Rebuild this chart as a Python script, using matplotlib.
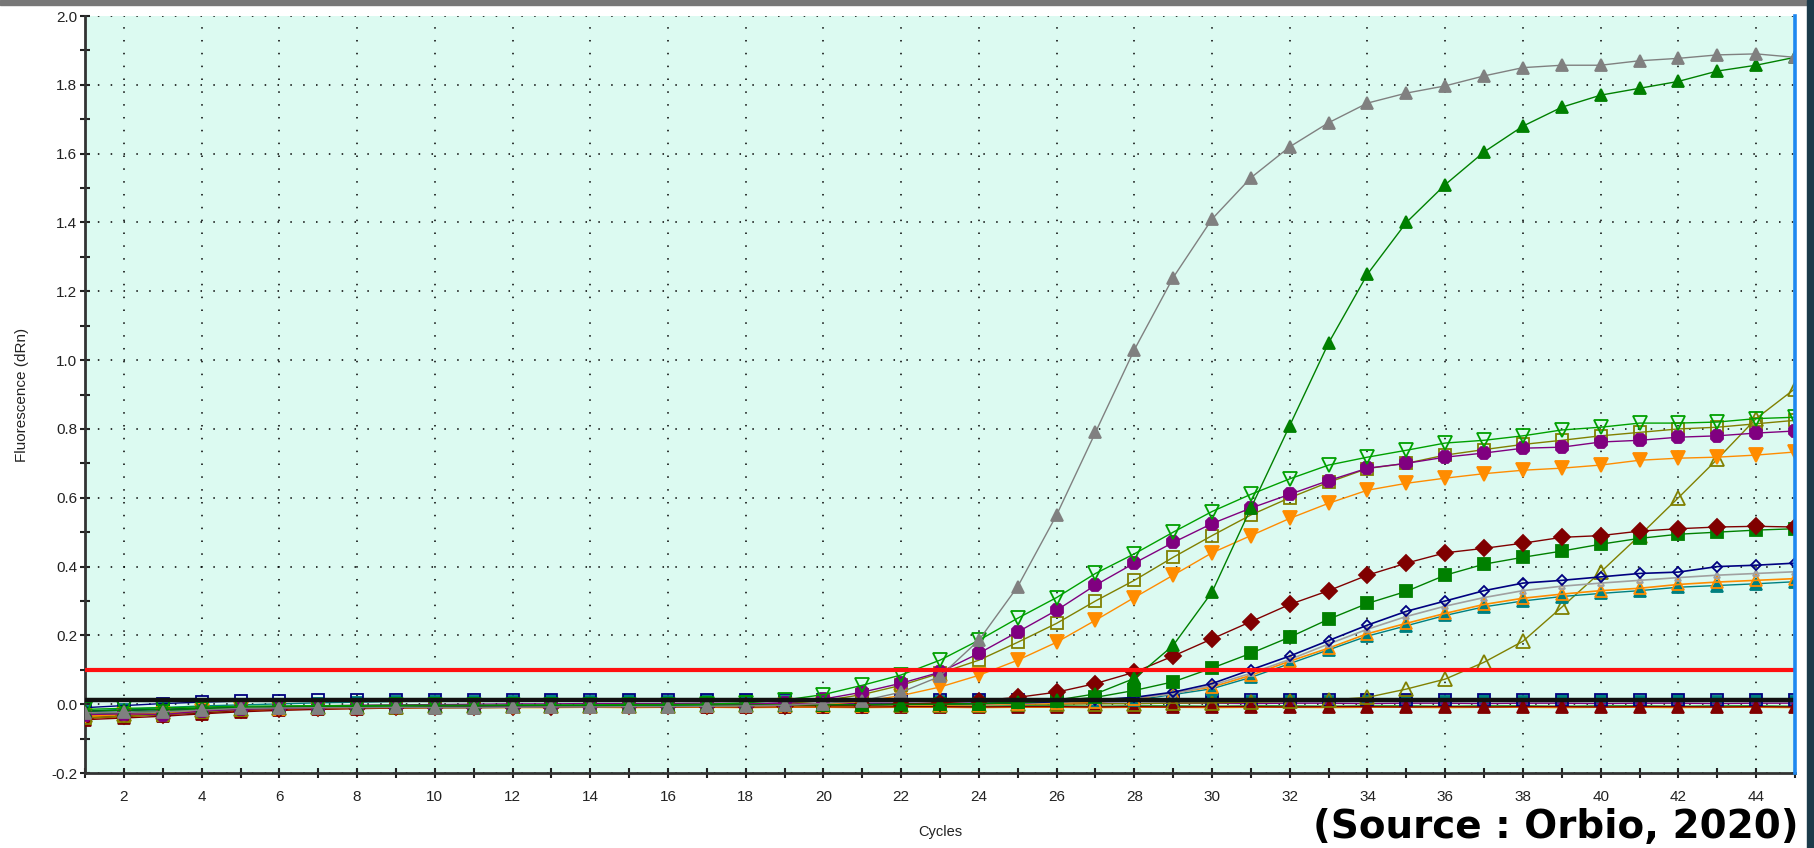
import numpy as np
import matplotlib.pyplot as plt
from matplotlib.ticker import MultipleLocator, FormatStrFormatter
from matplotlib.patches import Rectangle

cycles = list(range(1, 46))

# amplifying wells (dRn per cycle)
gray_tri = [-0.025, -0.024, -0.022, -0.017, -0.012, -0.011, -0.010, -0.010, -0.009, -0.010,
            -0.010, -0.009, -0.008, -0.008, -0.007, -0.007, -0.006, -0.005, -0.003, 0.002,
            0.010, 0.035, 0.081, 0.186, 0.342, 0.550, 0.790, 1.030, 1.240, 1.410,
            1.530, 1.620, 1.690, 1.747, 1.776, 1.797, 1.826, 1.850, 1.857, 1.857,
            1.870, 1.877, 1.887, 1.890, 1.880]
green_tri = [-0.020, -0.018, -0.015, -0.012, -0.010, -0.008, -0.007, -0.006, -0.006, -0.005,
             -0.005, -0.004, -0.004, -0.004, -0.003, -0.003, -0.003, -0.002, -0.002, -0.002,
             -0.001, 0.000, 0.000, 0.002, 0.005, 0.012, 0.030, 0.075, 0.171, 0.326,
             0.570, 0.810, 1.050, 1.250, 1.400, 1.510, 1.605, 1.680, 1.735, 1.770,
             1.790, 1.810, 1.840, 1.857, 1.880]
green_tri_down = [-0.015, -0.012, -0.010, -0.008, -0.006, -0.005, -0.004, -0.004, -0.003, -0.003,
                  -0.003, -0.002, -0.002, -0.002, -0.001, -0.001, 0.000, 0.004, 0.012, 0.028,
                  0.055, 0.085, 0.128, 0.186, 0.250, 0.310, 0.380, 0.437, 0.500, 0.560,
                  0.610, 0.655, 0.695, 0.718, 0.738, 0.759, 0.767, 0.780, 0.797, 0.805,
                  0.817, 0.817, 0.820, 0.830, 0.834]
purple_oct = [-0.030, -0.028, -0.030, -0.020, -0.015, -0.012, -0.010, -0.008, -0.007, -0.008,
              -0.007, -0.006, -0.006, -0.005, -0.005, -0.004, -0.003, -0.001, 0.004, 0.015,
              0.035, 0.061, 0.093, 0.148, 0.210, 0.273, 0.346, 0.410, 0.470, 0.525,
              0.570, 0.610, 0.650, 0.686, 0.700, 0.718, 0.730, 0.744, 0.747, 0.762,
              0.767, 0.776, 0.780, 0.788, 0.794]
olive_sq = [-0.040, -0.035, -0.030, -0.022, -0.016, -0.012, -0.010, -0.008, -0.007, -0.007,
            -0.006, -0.006, -0.005, -0.005, -0.004, -0.004, -0.003, -0.002, 0.002, 0.010,
            0.028, 0.055, 0.090, 0.128, 0.180, 0.235, 0.300, 0.360, 0.427, 0.490,
            0.550, 0.600, 0.645, 0.685, 0.700, 0.724, 0.740, 0.755, 0.767, 0.780,
            0.790, 0.800, 0.805, 0.815, 0.825]
orange_tri_down = [-0.035, -0.030, -0.028, -0.020, -0.015, -0.012, -0.010, -0.009, -0.008, -0.008,
                   -0.007, -0.007, -0.006, -0.006, -0.005, -0.005, -0.005, -0.004, -0.002, 0.000,
                   0.008, 0.025, 0.050, 0.084, 0.128, 0.180, 0.244, 0.310, 0.375, 0.440,
                   0.490, 0.540, 0.584, 0.622, 0.642, 0.657, 0.670, 0.680, 0.686, 0.695,
                   0.709, 0.715, 0.718, 0.724, 0.733]
darkred_diam = [-0.040, -0.035, -0.030, -0.025, -0.018, -0.014, -0.012, -0.010, -0.009, -0.009,
                -0.008, -0.008, -0.007, -0.006, -0.006, -0.005, -0.005, -0.004, -0.004, -0.003,
                -0.002, 0.000, 0.004, 0.010, 0.020, 0.035, 0.060, 0.093, 0.140, 0.190,
                0.240, 0.290, 0.330, 0.375, 0.410, 0.440, 0.453, 0.468, 0.485, 0.490,
                0.503, 0.510, 0.515, 0.517, 0.515]
green_sq = [-0.030, -0.025, -0.020, -0.015, -0.012, -0.010, -0.008, -0.007, -0.006, -0.006,
            -0.005, -0.005, -0.005, -0.004, -0.004, -0.004, -0.003, -0.003, -0.003, -0.003,
            -0.002, -0.001, 0.000, 0.002, 0.005, 0.010, 0.020, 0.040, 0.065, 0.105,
            0.148, 0.195, 0.247, 0.293, 0.328, 0.375, 0.407, 0.427, 0.445, 0.465,
            0.482, 0.494, 0.500, 0.506, 0.510]
navy_diam = [-0.020, -0.018, -0.015, -0.012, -0.010, -0.008, -0.007, -0.006, -0.005, -0.005,
             -0.005, -0.004, -0.004, -0.004, -0.003, -0.003, -0.003, -0.002, -0.002, -0.002,
             -0.001, 0.000, 0.001, 0.002, 0.004, 0.007, 0.012, 0.020, 0.035, 0.060,
             0.100, 0.140, 0.185, 0.230, 0.270, 0.300, 0.330, 0.352, 0.360, 0.370,
             0.380, 0.384, 0.400, 0.404, 0.410]
lightgray_tri = [-0.030, -0.026, -0.022, -0.017, -0.013, -0.011, -0.009, -0.008, -0.007, -0.007,
                 -0.006, -0.006, -0.005, -0.005, -0.005, -0.004, -0.004, -0.004, -0.003, -0.003,
                 -0.002, -0.001, 0.000, 0.001, 0.003, 0.006, 0.010, 0.018, 0.030, 0.055,
                 0.090, 0.130, 0.175, 0.218, 0.255, 0.285, 0.310, 0.330, 0.343, 0.352,
                 0.360, 0.368, 0.375, 0.380, 0.385]
teal_tri = [-0.028, -0.024, -0.020, -0.016, -0.012, -0.010, -0.009, -0.008, -0.007, -0.007,
            -0.006, -0.006, -0.006, -0.005, -0.005, -0.005, -0.004, -0.004, -0.004, -0.003,
            -0.003, -0.002, -0.001, 0.000, 0.002, 0.004, 0.007, 0.012, 0.028, 0.045,
            0.078, 0.118, 0.158, 0.198, 0.228, 0.258, 0.283, 0.300, 0.313, 0.322,
            0.330, 0.340, 0.345, 0.350, 0.356]
orange_tri_open = [-0.038, -0.034, -0.030, -0.022, -0.017, -0.013, -0.011, -0.010, -0.009, -0.009,
                   -0.008, -0.008, -0.007, -0.007, -0.007, -0.006, -0.006, -0.005, -0.005, -0.004,
                   -0.004, -0.003, -0.002, -0.001, 0.001, 0.003, 0.006, 0.015, 0.033, 0.050,
                   0.084, 0.125, 0.163, 0.205, 0.235, 0.264, 0.290, 0.308, 0.320, 0.330,
                   0.337, 0.348, 0.355, 0.360, 0.365]
olive_tri_open = [-0.032, -0.028, -0.024, -0.018, -0.014, -0.011, -0.009, -0.008, -0.007, -0.006,
                  -0.006, -0.005, -0.005, -0.004, -0.004, -0.004, -0.003, -0.003, -0.003, -0.002,
                  -0.002, -0.002, -0.001, -0.001, 0.000, 0.000, 0.001, 0.002, 0.003, 0.004,
                  0.006, 0.008, 0.012, 0.020, 0.044, 0.073, 0.122, 0.183, 0.282, 0.384,
                  0.490, 0.600, 0.712, 0.830, 0.917]

# wells that never amplify
navy_sq_flat = [-0.010, -0.004, 0.002, 0.006, 0.009, 0.010, 0.011, 0.012, 0.013, 0.012,
                0.013, 0.012, 0.013, 0.013, 0.012, 0.013, 0.012, 0.013, 0.013, 0.012,
                0.013, 0.012, 0.013, 0.012, 0.013, 0.013, 0.012, 0.013, 0.012, 0.013,
                0.013, 0.012, 0.013, 0.013, 0.012, 0.013, 0.012, 0.013, 0.013, 0.012,
                0.013, 0.012, 0.013, 0.013, 0.012]
teal_sq_flat = [-0.020, -0.015, -0.010, -0.005, -0.002, 0.001, 0.004, 0.006, 0.008, 0.009,
                0.010, 0.010, 0.011, 0.010, 0.011, 0.010, 0.011, 0.011, 0.010, 0.011,
                0.010, 0.011, 0.010, 0.011, 0.011, 0.010, 0.011, 0.010, 0.011, 0.011,
                0.010, 0.011, 0.010, 0.011, 0.011, 0.010, 0.011, 0.010, 0.011, 0.011,
                0.010, 0.011, 0.010, 0.011, 0.010]
purple_tri_flat = [-0.030, -0.025, -0.020, -0.014, -0.010, -0.007, -0.005, -0.003, -0.002, -0.001,
                   0.000, 0.001, 0.001, 0.002, 0.002, 0.002, 0.003, 0.002, 0.003, 0.002,
                   0.003, 0.003, 0.002, 0.003, 0.002, 0.003, 0.003, 0.002, 0.003, 0.003,
                   0.002, 0.003, 0.003, 0.002, 0.003, 0.003, 0.002, 0.003, 0.003, 0.002,
                   0.003, 0.003, 0.002, 0.003, 0.003]
orange_flat = [-0.042, -0.036, -0.030, -0.024, -0.019, -0.016, -0.014, -0.012, -0.011, -0.011,
               -0.010, -0.010, -0.010, -0.009, -0.010, -0.009, -0.009, -0.010, -0.009, -0.009,
               -0.010, -0.009, -0.009, -0.010, -0.009, -0.009, -0.010, -0.009, -0.009, -0.010,
               -0.009, -0.009, -0.010, -0.009, -0.009, -0.010, -0.009, -0.009, -0.010, -0.009,
               -0.009, -0.010, -0.009, -0.009, -0.010]
green_flat = [-0.036, -0.030, -0.026, -0.020, -0.016, -0.013, -0.011, -0.009, -0.008, -0.007,
              -0.007, -0.006, -0.006, -0.006, -0.005, -0.006, -0.005, -0.006, -0.005, -0.005,
              -0.006, -0.005, -0.005, -0.006, -0.005, -0.005, -0.006, -0.005, -0.005, -0.006,
              -0.005, -0.005, -0.006, -0.005, -0.005, -0.006, -0.005, -0.005, -0.006, -0.005,
              -0.005, -0.006, -0.005, -0.005, -0.006]
darkred_tri_flat = [-0.045, -0.040, -0.035, -0.028, -0.022, -0.018, -0.015, -0.013, -0.011, -0.010,
                    -0.010, -0.009, -0.009, -0.008, -0.008, -0.008, -0.007, -0.008, -0.007, -0.007,
                    -0.008, -0.007, -0.007, -0.008, -0.007, -0.007, -0.008, -0.007, -0.008, -0.007,
                    -0.007, -0.008, -0.007, -0.007, -0.008, -0.007, -0.008, -0.007, -0.007, -0.008,
                    -0.007, -0.007, -0.008, -0.007, -0.008]

threshold = 0.1
baseline_level = 0.013
end_cycle = 45

# (data, color, marker, markersize, filled, linewidth)
series = [
    (green_flat, '#008000', 's', 5, True, 1.0),
    (orange_flat, '#ff8c00', 's', 5, True, 1.0),
    (teal_sq_flat, '#008080', 's', 7, True, 1.0),
    (purple_tri_flat, '#800080', '^', 6, True, 1.0),
    (navy_sq_flat, '#000080', 's', 8, False, 1.0),
    (darkred_tri_flat, '#800000', '^', 9, True, 1.0),
    (olive_tri_open, '#808000', '^', 10, False, 1.0),
    (teal_tri, '#008080', '^', 8, True, 1.0),
    (orange_tri_open, '#ff8c00', '^', 9, False, 1.2),
    (lightgray_tri, '#a0a0a0', '^', 5, False, 1.2),
    (navy_diam, '#000080', 'D', 5, False, 1.2),
    (green_sq, '#008000', 's', 9, True, 1.0),
    (darkred_diam, '#800000', 'D', 8, True, 1.0),
    (orange_tri_down, '#ff8c00', 'v', 10, True, 1.0),
    (olive_sq, '#808000', 's', 9, False, 1.0),
    (purple_oct, '#800080', '8', 10, True, 1.0),
    (green_tri_down, '#00a000', 'v', 10, False, 1.0),
    (green_tri, '#008000', '^', 9, True, 1.0),
    (gray_tri, '#808080', '^', 9, True, 1.0),
]

fig = plt.figure(figsize=(18.14, 8.48), dpi=100)
fig.patch.set_facecolor('white')
ax = fig.add_axes([0.0469, 0.0884, 0.9426, 0.8927])
ax.set_facecolor('#dcfaf1')

for data, col, mk, ms, filled, lw in series:
    ax.plot(cycles, data, color=col, lw=lw, marker=mk, markersize=ms,
            markerfacecolor=col if filled else 'none', markeredgecolor=col,
            markeredgewidth=1.3, zorder=3)

ax.axhline(baseline_level, color='#111111', lw=3.2, zorder=4)
ax.axhline(threshold, color='#ff1010', lw=3.0, zorder=5)
ax.axvline(end_cycle, color='#1e88f0', lw=2.6, zorder=6, clip_on=False)

ax.set_xlim(1, 45)
ax.set_ylim(-0.2, 2.0)
ax.xaxis.set_major_locator(MultipleLocator(2))
ax.xaxis.set_minor_locator(MultipleLocator(1))
ax.yaxis.set_major_locator(MultipleLocator(0.2))
ax.yaxis.set_minor_locator(MultipleLocator(0.1))
ax.yaxis.set_major_formatter(FormatStrFormatter('%.1f'))

ax.grid(True, which='major', color='black', linestyle=(0, (1, 7.4)), lw=1.1)
ax.set_axisbelow(True)

for side in ['top', 'right']:
    ax.spines[side].set_visible(False)
for side in ['left', 'bottom']:
    ax.spines[side].set_color('#333333')
    ax.spines[side].set_linewidth(2.0)

ax.tick_params(which='both', direction='inout', length=7, width=1.5, color='#222222')
ax.tick_params(axis='y', labelsize=11, labelcolor='#222222', pad=2)
ax.tick_params(axis='x', labelsize=11, labelcolor='#222222', pad=9)
for lab in ax.get_xticklabels() + ax.get_yticklabels():
    lab.set_family('Liberation Sans')

ax.set_xlabel('Cycles', fontsize=10.5, family='Liberation Sans', color='#222222', labelpad=15)
ax.set_ylabel('Fluorescence (dRn)', fontsize=11, family='Liberation Sans', color='#222222', labelpad=16)

# window chrome around the screenshot
fig.patches.append(Rectangle((0, 0.994), 1, 0.006, transform=fig.transFigure,
                             color='#777777', zorder=10))
fig.patches.append(Rectangle((0.9962, 0), 0.0038, 1, transform=fig.transFigure,
                             color='#1c3b4a', zorder=10))

fig.text(0.9915, 0.025, '(Source : Orbio, 2020)', ha='right', va='center',
         fontsize=28, fontweight='bold', family='DejaVu Sans', color='black')

fig.savefig('out.png', dpi=100, facecolor='white')
